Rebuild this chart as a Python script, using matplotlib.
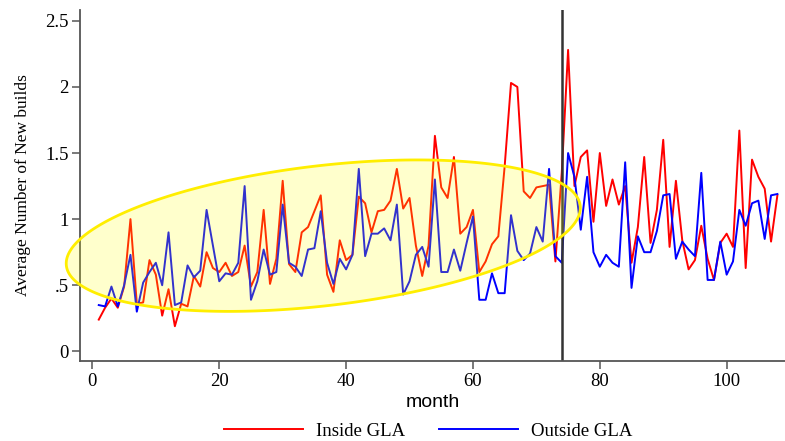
import numpy as np
import matplotlib
matplotlib.use("Agg")
import matplotlib.pyplot as plt

# monthly averages
months = list(range(1, 109))
inside_gla = [
    0.24, 0.33, 0.40, 0.33, 0.49, 1.00, 0.36, 0.37, 0.69, 0.58,
    0.27, 0.47, 0.19, 0.36, 0.34, 0.57, 0.49, 0.75, 0.63, 0.60,
    0.67, 0.57, 0.60, 0.80, 0.49, 0.60, 1.07, 0.51, 0.70, 1.29,
    0.66, 0.60, 0.90, 0.94, 1.06, 1.18, 0.58, 0.45, 0.84, 0.69,
    0.73, 1.17, 1.12, 0.90, 1.06, 1.07, 1.14, 1.38, 1.08, 1.16,
    0.80, 0.57, 0.80, 1.63, 1.24, 1.16, 1.47, 0.89, 0.94, 1.07,
    0.60, 0.68, 0.81, 0.87, 1.40, 2.03, 2.00, 1.21, 1.16, 1.24,
    1.25, 1.26, 0.68, 1.35, 2.28, 1.25, 1.47, 1.52, 0.98, 1.50,
    1.10, 1.30, 1.11, 1.25, 0.67, 0.94, 1.47, 0.82, 1.07, 1.60,
    0.79, 1.29, 0.84, 0.62, 0.69, 0.95, 0.70, 0.54, 0.82, 0.89,
    0.79, 1.67, 0.63, 1.45, 1.32, 1.23, 0.83, 1.18,
]
outside_gla = [
    0.35, 0.34, 0.49, 0.34, 0.50, 0.73, 0.30, 0.52, 0.60, 0.67,
    0.50, 0.90, 0.35, 0.37, 0.65, 0.56, 0.61, 1.07, 0.80, 0.53,
    0.59, 0.58, 0.67, 1.25, 0.39, 0.53, 0.77, 0.58, 0.60, 1.11,
    0.67, 0.64, 0.57, 0.77, 0.78, 1.06, 0.67, 0.51, 0.70, 0.62,
    0.73, 1.38, 0.72, 0.89, 0.89, 0.93, 0.84, 1.11, 0.43, 0.53,
    0.73, 0.79, 0.64, 1.30, 0.60, 0.60, 0.77, 0.61, 0.82, 1.02,
    0.39, 0.39, 0.59, 0.44, 0.44, 1.03, 0.76, 0.69, 0.74, 0.94,
    0.83, 1.38, 0.72, 0.67, 1.50, 1.32, 0.92, 1.32, 0.75, 0.64,
    0.73, 0.67, 0.64, 1.43, 0.48, 0.87, 0.75, 0.75, 0.91, 1.18,
    1.19, 0.70, 0.83, 0.77, 0.72, 1.35, 0.54, 0.54, 0.83, 0.58,
    0.68, 1.07, 0.95, 1.12, 1.14, 0.85, 1.18, 1.19,
]
break_month = 74
yticks = [0, 0.5, 1, 1.5, 2, 2.5]
ytick_labels = ["0", ".5", "1", "1.5", "2", "2.5"]
xticks = [0, 20, 40, 60, 80, 100]

serif = "Liberation Serif"
axis_col = "#555555"

fig = plt.figure(figsize=(7.85, 4.41), dpi=100)
ax = fig.add_axes([0.1023, 0.1814, 0.8977, 0.796])

ax.plot(months, inside_gla, color="red", lw=1.4, label="Inside GLA")
ax.plot(months, outside_gla, color="blue", lw=1.4, label="Outside GLA")
ax.axvline(break_month, color="#333333", lw=1.8)

ax.set_xlim(-1.91, 109.2)
ax.set_ylim(-0.073, 2.582)

# highlight ellipse, built in pixel units so the tilt looks right
px_per_month, px_per_unit = 6.343, 132.2
cx, cy = 36.4, 0.875
a, b, theta = 258.7, 70.0, np.deg2rad(6.66)
t = np.linspace(0, 2 * np.pi, 300)
dx = a * np.cos(t) * np.cos(theta) - b * np.sin(t) * np.sin(theta)
dy = a * np.cos(t) * np.sin(theta) + b * np.sin(t) * np.cos(theta)
ax.fill(cx + dx / px_per_month, cy + dy / px_per_unit,
        facecolor=(1, 1, 0, 0.2), edgecolor="#FFEE00", lw=2, zorder=5,
        clip_on=False)

ax.set_yticks(yticks)
ax.set_yticklabels(ytick_labels, fontfamily=serif, fontsize=13.5)
ax.set_xticks(xticks)
ax.set_xticklabels([str(v) for v in xticks], fontfamily=serif, fontsize=13.5)
ax.tick_params(length=6, width=1.1, color=axis_col, pad=2.5)

for side in ["top", "right"]:
    ax.spines[side].set_visible(False)
for side in ["left", "bottom"]:
    ax.spines[side].set_color(axis_col)
    ax.spines[side].set_linewidth(1.3)

ax.set_ylabel("Average Number of New builds", fontfamily=serif, fontsize=12.5,
              labelpad=10)
ax.set_xlabel("month", fontfamily="Liberation Sans", fontsize=14, labelpad=3)

fig.legend(loc="center", bbox_to_anchor=(428 / 785, 1 - 431 / 441), ncol=2,
           frameon=False, prop={"family": serif, "size": 13.5},
           handlelength=4.2, handletextpad=0.7, columnspacing=1.8)

plt.savefig("out.png", dpi=100)
